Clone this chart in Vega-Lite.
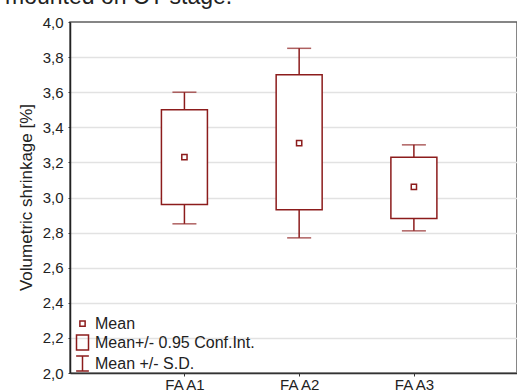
{
  "$schema": "https://vega.github.io/schema/vega-lite/v6.json",
  "autosize": "none",
  "width": 447,
  "height": 351,
  "padding": {"left": 70, "top": 22, "right": 0, "bottom": 18},
  "background": "white",
  "title": {
    "text": "mounted on CT stage.",
    "anchor": "start",
    "frame": "group",
    "dx": -65,
    "dy": 20,
    "offset": 8,
    "baseline": "alphabetic",
    "font": "Liberation Sans",
    "fontSize": 23,
    "fontWeight": "normal",
    "color": "#222222"
  },
  "config": {
    "view": {"stroke": "#5f5f5f", "strokeWidth": 1.5},
    "font": "Liberation Sans",
    "axisX": {
      "orient": "bottom",
      "title": null,
      "labelAngle": 0,
      "labelFontSize": 15,
      "labelPadding": 1,
      "labelFont": "Liberation Sans",
      "labelColor": "#222222",
      "ticks": true,
      "tickSize": 3,
      "tickWidth": 1,
      "tickColor": "#333333",
      "domainColor": "#333333",
      "domainWidth": 1.5,
      "grid": false
    },
    "axisY": {
      "titleFont": "Liberation Sans",
      "titleColor": "#222222",
      "titleFontSize": 17,
      "titleFontWeight": "normal",
      "titleX": -44,
      "titleY": 175,
      "titleAngle": -90,
      "titleBaseline": "middle",
      "titleAlign": "center",
      "labelFont": "Liberation Sans",
      "labelColor": "#222222",
      "labelFontSize": 15,
      "labelPadding": 5,
      "labelOverlap": false,
      "tickSize": 2,
      "tickColor": "#333333",
      "domainColor": "#222222",
      "domainWidth": 1.5,
      "grid": true,
      "gridWidth": 1.5
    }
  },
  "data": {
    "values": [
      {"group": "FA A1", "mean": 3.23, "ci_low": 2.96, "ci_high": 3.50, "sd_low": 2.85, "sd_high": 3.60},
      {"group": "FA A2", "mean": 3.31, "ci_low": 2.93, "ci_high": 3.70, "sd_low": 2.77, "sd_high": 3.85},
      {"group": "FA A3", "mean": 3.06, "ci_low": 2.88, "ci_high": 3.23, "sd_low": 2.81, "sd_high": 3.30}
    ]
  },
  "layer": [
    {
      "mark": {"type": "rule", "color": "#8c1c1c", "strokeWidth": 1.5},
      "encoding": {
        "x": {
          "field": "group", "type": "nominal", "sort": null,
          "scale": {"type": "point", "padding": 0.948, "align": 0.526},
          "axis": {"title": null}
        },
        "y": {
          "field": "sd_low", "type": "quantitative",
          "scale": {"domain": [2, 4], "nice": false, "zero": false},
          "axis": {"title": "Volumetric shrinkage [%]", "values": [2, 2.2, 2.4, 2.6, 2.8, 3, 3.2, 3.4, 3.6, 3.8, 4], "labelExpr": "replace(format(datum.value, '.1f'), '.', ',')", "gridColor": {"condition": {"test": "datum.value >= 3.99", "value": "#5f5f5f"}, "value": "#e2e2e2"}, "gridOpacity": {"condition": {"test": "datum.value >= 3.99", "value": 0}, "value": 1}}
        },
        "y2": {"field": "sd_high"}
      }
    },
    {
      "mark": {"type": "tick", "color": "#8c1c1c", "size": 24, "thickness": 1.5},
      "encoding": {
        "x": {"field": "group", "type": "nominal", "sort": null, "axis": {"title": null}},
        "y": {
          "field": "sd_low", "type": "quantitative",
          "axis": {"title": "Volumetric shrinkage [%]", "values": [2, 2.2, 2.4, 2.6, 2.8, 3, 3.2, 3.4, 3.6, 3.8, 4], "labelExpr": "replace(format(datum.value, '.1f'), '.', ',')", "gridColor": {"condition": {"test": "datum.value >= 3.99", "value": "#5f5f5f"}, "value": "#e2e2e2"}, "gridOpacity": {"condition": {"test": "datum.value >= 3.99", "value": 0}, "value": 1}}
        }
      }
    },
    {
      "mark": {"type": "tick", "color": "#8c1c1c", "size": 24, "thickness": 1.5},
      "encoding": {
        "x": {"field": "group", "type": "nominal", "sort": null, "axis": {"title": null}},
        "y": {
          "field": "sd_high", "type": "quantitative",
          "axis": {"title": "Volumetric shrinkage [%]", "values": [2, 2.2, 2.4, 2.6, 2.8, 3, 3.2, 3.4, 3.6, 3.8, 4], "labelExpr": "replace(format(datum.value, '.1f'), '.', ',')", "gridColor": {"condition": {"test": "datum.value >= 3.99", "value": "#5f5f5f"}, "value": "#e2e2e2"}, "gridOpacity": {"condition": {"test": "datum.value >= 3.99", "value": 0}, "value": 1}}
        }
      }
    },
    {
      "mark": {"type": "bar", "width": 46, "fill": "white", "stroke": "#8c1c1c", "strokeWidth": 1.5},
      "encoding": {
        "x": {"field": "group", "type": "nominal", "sort": null, "axis": {"title": null}},
        "y": {
          "field": "ci_low", "type": "quantitative",
          "axis": {"title": "Volumetric shrinkage [%]", "values": [2, 2.2, 2.4, 2.6, 2.8, 3, 3.2, 3.4, 3.6, 3.8, 4], "labelExpr": "replace(format(datum.value, '.1f'), '.', ',')", "gridColor": {"condition": {"test": "datum.value >= 3.99", "value": "#5f5f5f"}, "value": "#e2e2e2"}, "gridOpacity": {"condition": {"test": "datum.value >= 3.99", "value": 0}, "value": 1}}
        },
        "y2": {"field": "ci_high"}
      }
    },
    {
      "mark": {"type": "point", "filled": false, "color": "#8c1c1c", "strokeWidth": 1.5, "size": 225, "opacity": 1},
      "encoding": {
        "x": {"field": "group", "type": "nominal", "sort": null, "axis": {"title": null}},
        "y": {
          "field": "mean", "type": "quantitative",
          "axis": {"title": "Volumetric shrinkage [%]", "values": [2, 2.2, 2.4, 2.6, 2.8, 3, 3.2, 3.4, 3.6, 3.8, 4], "labelExpr": "replace(format(datum.value, '.1f'), '.', ',')", "gridColor": {"condition": {"test": "datum.value >= 3.99", "value": "#5f5f5f"}, "value": "#e2e2e2"}, "gridOpacity": {"condition": {"test": "datum.value >= 3.99", "value": 0}, "value": 1}}
        },
        "shape": {
          "datum": "Mean",
          "type": "nominal",
          "scale": {
            "domain": ["Mean", "Mean+/- 0.95 Conf.Int.", "Mean +/- S.D."],
            "range": [
              "M-0.35,-0.35H0.35V0.35H-0.35Z",
              "M-0.8,-1H0.8V1H-0.8Z",
              "M-0.85,-1H0.85M0,-1V1M-0.85,1H0.85"
            ]
          },
          "legend": {
            "title": null,
            "orient": "none",
            "legendX": 4,
            "legendY": 293,
            "padding": 0,
            "rowPadding": 0,
            "symbolSize": 225,
            "symbolStrokeColor": "#8c1c1c",
            "symbolFillColor": "white",
            "symbolStrokeWidth": 1.5,
            "symbolOpacity": 1,
            "labelFont": "Liberation Sans",
            "labelFontSize": 16,
            "labelColor": "#222222",
            "labelOffset": 4
          }
        }
      }
    }
  ]
}
